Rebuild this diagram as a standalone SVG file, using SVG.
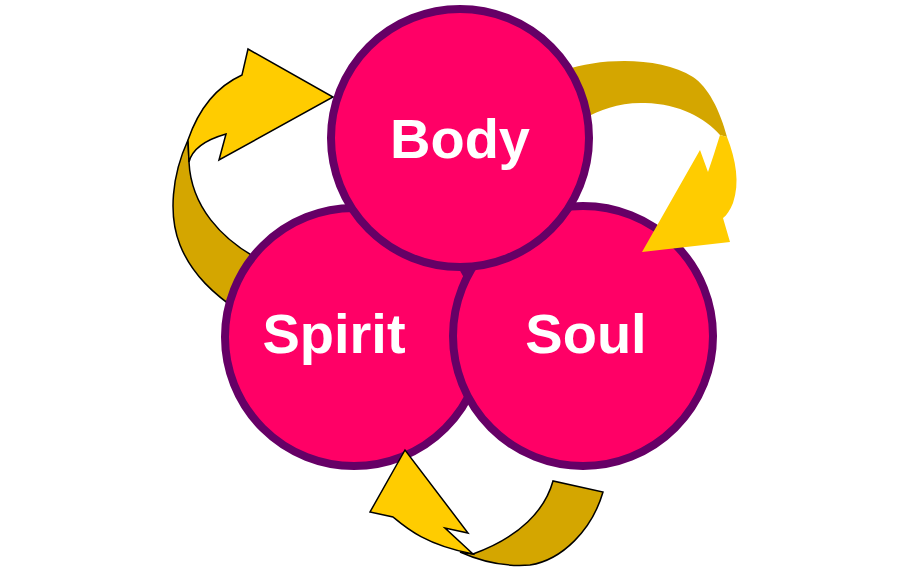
<svg xmlns="http://www.w3.org/2000/svg" width="900" height="580" viewBox="0 0 900 580">
<style>
.c{fill:#FF0066;stroke:#660066;stroke-width:8}
.t{fill:#fff;font-family:"Liberation Sans",Arial,sans-serif;font-weight:bold;font-size:56px;text-anchor:middle}
.band{fill:#D4A600}
.head{fill:#FFCC00}
.ol{stroke:#000;stroke-width:1.5;stroke-linejoin:miter}
</style>
<rect width="900" height="580" fill="#fff"/>
<g id="connectors-bands">
<path class="band ol" d="M188,140 C172,175 168,215 180,245 C192,275 215,295 240,312 L264,262 C220,240 191,205 189,162 Z"/>
<path class="band" d="M565,70 C600,58 660,56 693,77 C708,87 720,110 727,137 L720,135 C705,118 680,104 645,103 C620,102 600,110 585,118 Z"/>
<path class="band ol" d="M460,552 C480,561 505,567 530,565 C562,560 592,530 603,492 L553,481 C545,510 520,537 473,554 Z"/>
</g>
<g id="spirit"><circle class="c" cx="354" cy="337" r="129"/><text class="t" x="334" y="353">Spirit</text></g>
<g id="soul"><circle class="c" cx="583" cy="336" r="130"/><text class="t" x="586" y="353">Soul</text></g>
<g id="body"><circle class="c" cx="460" cy="138" r="129"/><text class="t" x="460" y="158">Body</text></g>
<g id="connectors-heads">
<path class="head ol" d="M188,140 C200,105 220,85 242,75 L248,49 L333,97 L219,160 L226,134 C205,140 192,150 189,162 Z"/>
<path class="head" d="M720,135 L727,137 C736,160 740,183 733,203 C730,210 727,215 723,218 L730,242 L642,252 L700,150 L708,172 C712,160 716,148 720,135 Z"/>
<path class="head ol" d="M473,554 L445,528 L468,533 L405,450 L370,512 L393,517 C405,527 425,545 473,554 Z"/>
</g>
</svg>
